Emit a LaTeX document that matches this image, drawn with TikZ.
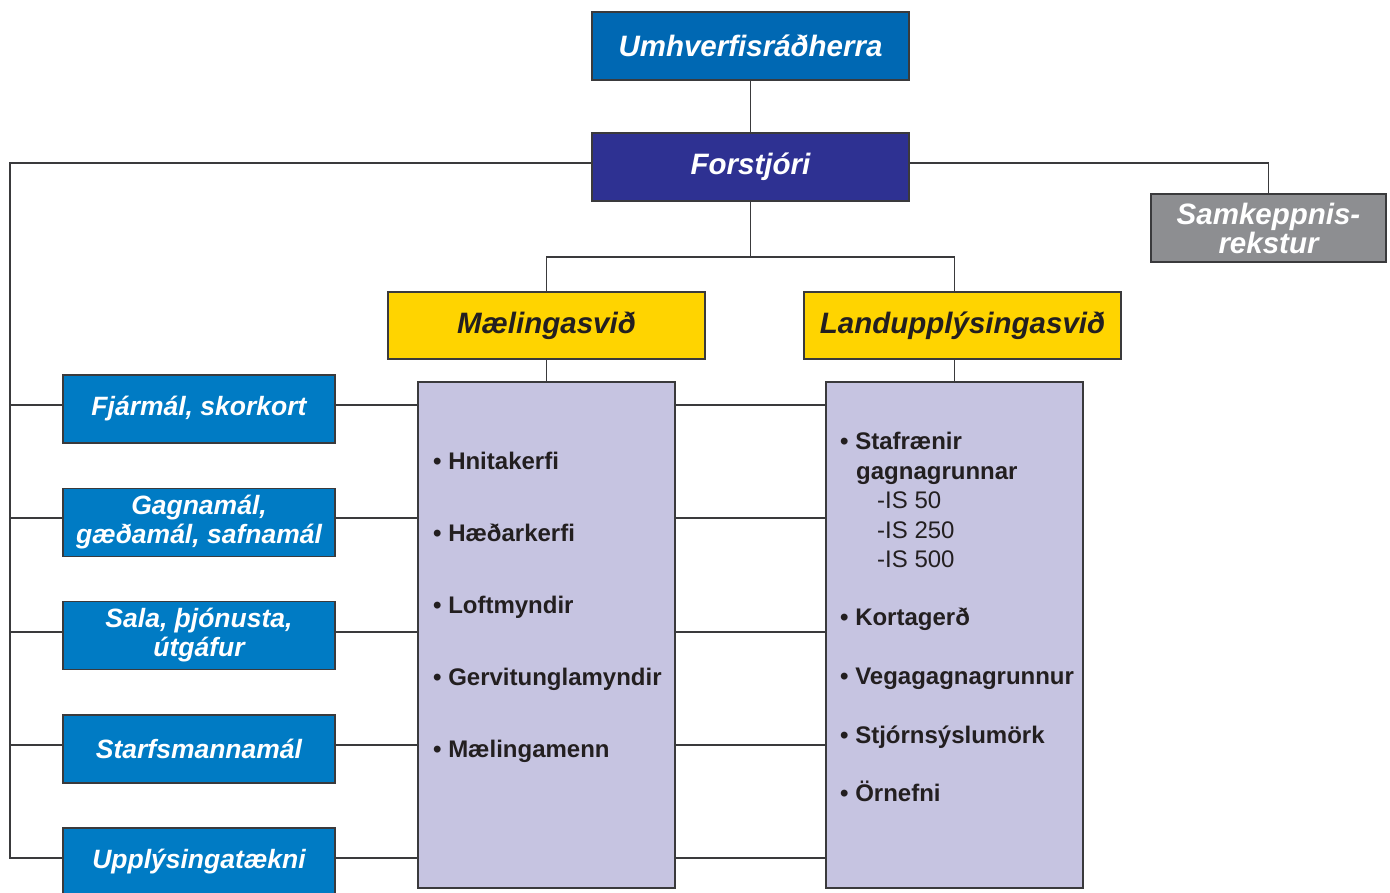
\documentclass[tikz,border=0pt]{standalone}
\usepackage{fontspec}
\setmainfont{Liberation Sans}
\newfontfamily\listfont{Liberation Sans}
\definecolor{lineC}{HTML}{3A3A3C}
\definecolor{topblue}{HTML}{0068B3}
\definecolor{indigo}{HTML}{2E3192}
\definecolor{midblue}{HTML}{007BC4}
\definecolor{greyC}{HTML}{8D8E91}
\definecolor{yellowC}{HTML}{FFD400}
\definecolor{lavC}{HTML}{C6C4E1}
\definecolor{textC}{HTML}{231F20}
\begin{document}
\begin{tikzpicture}[x=1pt,y=-1pt,
  box/.style={draw=lineC, line width=1.4pt, inner sep=0pt, align=center,
    font=\bfseries\itshape\fontsize{29.5}{29}\selectfont, text=white},
  side/.style={box, fill=midblue, minimum width=272pt, minimum height=68pt,
    font=\bfseries\itshape\fontsize{26.5}{29}\selectfont},
  lav/.style={draw=lineC, line width=1.4pt, fill=lavC, minimum width=257pt, minimum height=506pt},
  item/.style={anchor=base west, inner sep=0pt, text=textC,
    font=\listfont\bfseries\fontsize{24}{25}\selectfont},
  sub/.style={item, font=\listfont\fontsize{24}{25}\selectfont},
  conn/.style={draw=lineC, line width=1.4pt}]
\useasboundingbox (0,0) rectangle (1390,892);
\clip (0,0) rectangle (1390,892);
\fill[white] (0,0) rectangle (1390,892);

% top boxes
\node[box, fill=topblue, minimum width=317pt, minimum height=68pt] (umh) at (750.5,46) {Umhverfisráðherra};
\node[box, fill=indigo, minimum width=317pt, minimum height=68pt] (fst) at (750.5,167) {Forstjóri};
\node[box, fill=greyC, minimum width=235pt, minimum height=68pt] (sam) at (1268.5,228) {Samkeppnis-\\rekstur};
\node[box, fill=yellowC, text=textC, minimum width=317pt, minimum height=67pt] (mael) at (546.5,325.5) {Mælingasvið};
\node[box, fill=yellowC, text=textC, minimum width=317pt, minimum height=67pt] (land) at (962.5,325.5) {Landupplýsingasvið};

% lavender boxes
\node[lav] (lav1) at (546.5,635) {};
\node[lav] (lav2) at (954.5,635) {};

% side boxes
\node[side] (s1) at (199,409) {Fjármál, skorkort};
\node[side] (s2) at (199,522.5) {Gagnamál,\\gæðamál, safnamál};
\node[side] (s3) at (199,635.5) {Sala, þjónusta,\\útgáfur};
\node[side] (s4) at (199,749) {Starfsmannamál};
\node[side] (s5) at (199,862) {Upplýsingatækni};

% list items
\node[item] (a1) at (433,469.5) {• Hnitakerfi};
\node[item] (a2) at (433,541.5) {• Hæðarkerfi};
\node[item] (a3) at (433,613.5) {• Loftmyndir};
\node[item] (a4) at (433,685.5) {• Gervitunglamyndir};
\node[item] (a5) at (433,757.5) {• Mælingamenn};

\node[item] (b1) at (840,449.5) {• Stafrænir};
\node[item] (b1b) at (856,479.5) {gagnagrunnar};
\node[sub] (b2) at (877,508.5) {-IS 50};
\node[sub] (b3) at (877,538.5) {-IS 250};
\node[sub] (b4) at (877,567.5) {-IS 500};
\node[item] (b5) at (840,625.5) {• Kortagerð};
\node[item] (b6) at (840,684.5) {• Vegagagnagrunnur};
\node[item] (b7) at (840,743.5) {• Stjórnsýslumörk};
\node[item] (b8) at (840,801.5) {• Örnefni};

% connectors
\draw[conn] (umh.south) -- (fst.north);
\coordinate (j) at (750.5,257);
\draw[conn] (fst.south) -- (j);
\draw[conn] (mael.north) |- (j) -| (land.north -| lav2.north);
\draw[conn] (mael.south) -- (lav1.north);
\draw[conn] (land.south -| lav2.north) -- (lav2.north);
\draw[conn] (fst.east |- 0,163) -| (sam.north);
\coordinate (tb) at (10,858);
\draw[conn] (fst.west |- 0,163) -| (tb) -- (tb -| s5.west);
\foreach \s/\y in {s1/405, s2/518, s3/632, s4/745, s5/858} {
  \draw[conn] (10,\y) -- (\s.west |- 0,\y);
  \draw[conn] (\s.east |- 0,\y) -- (lav1.west |- 0,\y);
  \draw[conn] (lav1.east |- 0,\y) -- (lav2.west |- 0,\y);
}
\end{tikzpicture}
\end{document}
